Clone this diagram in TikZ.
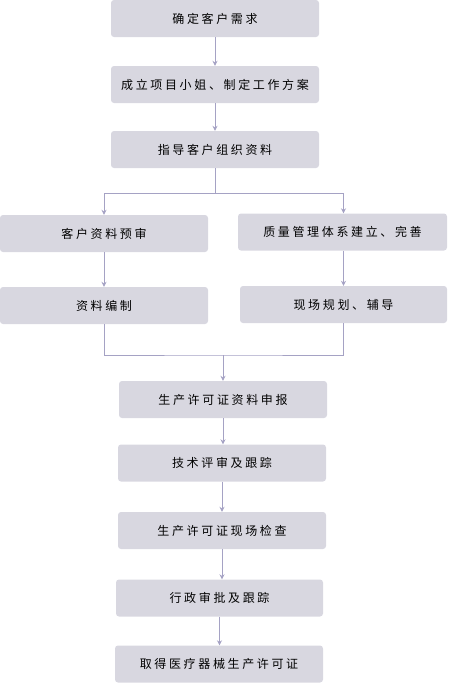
\documentclass[tikz,border=0pt]{standalone}
\usepackage{fontspec}
\setmainfont{Noto Sans CJK SC}[LetterSpace=22]
\usetikzlibrary{arrows.meta}
\definecolor{boxfill}{HTML}{D8D7E0}
\definecolor{linec}{HTML}{A5A2C4}
\tikzset{
  box/.style={fill=boxfill, draw=none, rounded corners=3pt, minimum width=208pt, minimum height=37pt, inner sep=0pt, font=\fontsize{12pt}{14pt}\selectfont, text=black},
  conn/.style={draw=linec, line width=0.8pt},
  arr/.style={conn, -{Stealth[length=5pt,width=5pt]}}
}
\begin{document}
\begin{tikzpicture}[x=1pt,y=-1pt]
\useasboundingbox (0,0) rectangle (448,683);
\node[box] (b1) at (215,18.5) {确定客户需求};
\node[box] (b2) at (215,84.5) {成立项目小姐、制定工作方案};
\node[box] (b3) at (215,149.5) {指导客户组织资料};
\node[box] (l1) at (104,233.5) {客户资料预审};
\node[box, minimum width=209pt] (r1) at (342.5,232) {质量管理体系建立、完善};
\node[box] (l2) at (104,305.5) {资料编制};
\node[box, minimum width=207pt] (r2) at (343.5,304.5) {现场规划、辅导};
\node[box] (c1) at (223,399.5) {生产许可证资料申报};
\node[box] (c2) at (222,463) {技术评审及跟踪};
\node[box] (c3) at (222,530.5) {生产许可证现场检查};
\node[box, minimum width=207pt] (c4) at (219.5,598) {行政审批及跟踪};
\node[box] (c5) at (219,664) {取得医疗器械生产许可证};
\coordinate (split) at (215,193);
\coordinate (merge) at (223,355);
\draw[arr] (b1) -- (b2);
\draw[arr] (b2) -- (b3);
\draw[conn] (b3) -- (split);
\draw[arr] (split) -| (l1.north);
\draw[arr] (split) -| (r2.north |- r1.north);
\draw[arr] (l1) -- (l2);
\draw[arr] (r2.north |- r1.south) -- (r2.north);
\draw[conn] (l2.south) |- (merge) -| (r2.south);
\draw[arr] (merge) -- (c1.north);
\draw[arr] (c1.south) -- (c1.south |- c2.north);
\draw[arr] (c2.south) -- (c2.south |- c3.north);
\draw[arr] (c3.south) -- (c3.south |- c4.north);
\draw[arr] (c4.south) -- (c4.south |- c5.north);
\end{tikzpicture}
\end{document}
